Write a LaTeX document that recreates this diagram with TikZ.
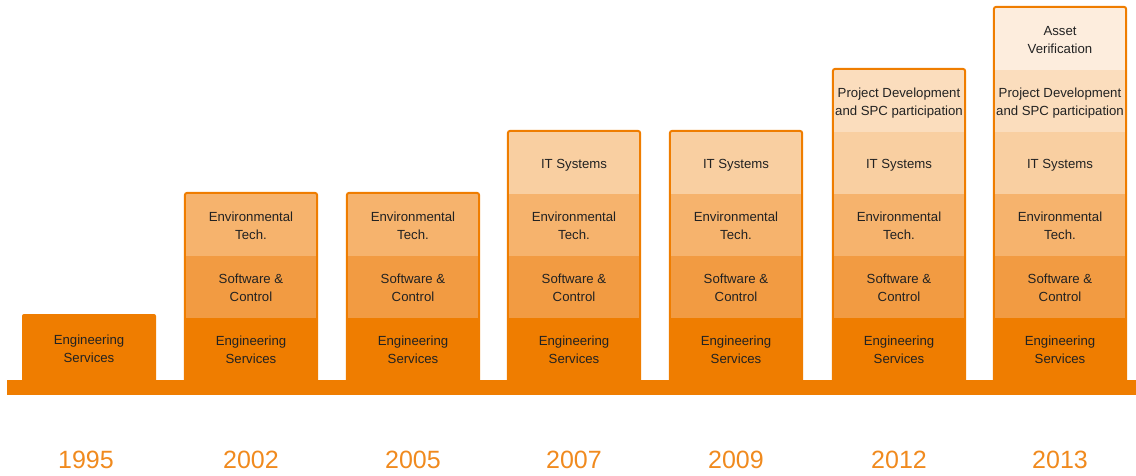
\documentclass[tikz,border=0pt]{standalone}
\usepackage{fontspec}
\setmainfont{Liberation Sans}
\definecolor{eng}{HTML}{EF7D00}
\definecolor{sw}{HTML}{F29B42}
\definecolor{env}{HTML}{F6B36D}
\definecolor{its}{HTML}{F9CFA1}
\definecolor{proj}{HTML}{FBDDBD}
\definecolor{asset}{HTML}{FDEDDD}
\definecolor{yearc}{HTML}{F08A1E}
\definecolor{txt}{HTML}{222222}
\newcommand\layertext[1]{\raisebox{-2pt}[\height][\depth]{\begin{tabular}{@{}c@{}}#1\end{tabular}}}
\begin{document}
\begin{tikzpicture}[x=1pt,y=-1pt,
  layer/.style={minimum width=134pt, minimum height=62pt, inner sep=0pt,
    font=\fontsize{13.2}{18}\selectfont, text=txt},
  year/.style={font=\fontsize{25}{30}\selectfont, text=yearc, inner sep=0pt},
  frame/.style={draw=eng, line width=2pt, rounded corners=2.5pt}]
\useasboundingbox (0,0) rectangle (1136,476);

% 1995 column
\node[layer, fill=eng, minimum height=68pt, rounded corners=2pt] (c0-1) at (89,348) {\layertext{Engineering\\Services}};
\node[year] (y0) at (86,460) {1995};

\foreach \cx/\n/\yr [count=\i] in {251/3/2002, 413/3/2005, 574/4/2007, 736/4/2009, 899/5/2012, 1060/6/2013} {
  \foreach \k/\t/\c in {1/{Engineering\\Services}/eng, 2/{Software \&\\Control}/sw,
      3/{Environmental\\Tech.}/env, 4/{IT Systems}/its,
      5/{Project Development\\and SPC participation}/proj, 6/{Asset\\Verification}/asset} {
    \ifnum\k>\n\relax\else
      \node[layer, fill=\c] (c\i-\k) at (\cx,{349-62*(\k-1)}) {\layertext{\t}};
    \fi
  }
  \draw[frame] ([xshift=1pt]c\i-1.south west) |- ([yshift=1pt]c\i-\n.north) -| ([xshift=-1pt]c\i-1.south east);
  \node[year] (y\i) at (\cx,460) {\yr};
}

% base bar
\node[fill=eng, minimum width=1129pt, minimum height=15pt, inner sep=0pt] (base) at (571.5,387.5) {};
\end{tikzpicture}
\end{document}
